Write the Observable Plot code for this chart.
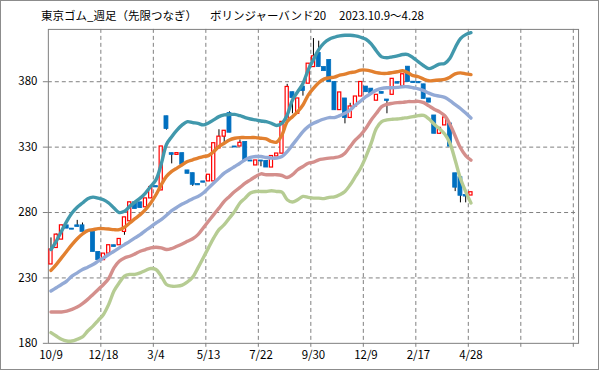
<!DOCTYPE html>
<html><head><meta charset="utf-8">
<script src="https://cdn.jsdelivr.net/npm/d3@7"></script>
<script src="https://cdn.jsdelivr.net/npm/@observablehq/plot@0.6"></script>
<style>
body{margin:0;background:#fff;}
#wrap{position:relative;width:599px;height:370px;box-sizing:border-box;border:1px solid #8c8c8c;overflow:hidden;font-family:"Noto Sans CJK JP","Noto Sans",sans-serif;background:#fff;}
#wrap svg{position:absolute;left:-1px;top:-1px;}
.t{position:absolute;top:6px;font-size:11.5px;line-height:16px;white-space:nowrap;color:#000;}
</style></head><body>
<div id="wrap">
<span class="t" style="left:40px">東京ゴム_週足（先限つなぎ）</span>
<span class="t" style="left:209px">ボリンジャーバンド20</span>
<span class="t" style="left:338px">2023.10.9〜4.28</span>
</div>
<script>
// Weekly candles (bar index 0 = 2023/10/9 ... 80 = 2025/4/28)
const open  = [240.3,252.9,259.3,270.2,267.7,270.2,270.2,266.2,265.2,249.9,243.6,248.6,255.0,255.0,265.2,273.3,287.8,287.8,284.0,290.8,300.2,296.9,353.6,325.4,324.1,325.4,312.2,310.1,301.8,303.8,303.8,303.8,329.0,338.0,356.0,330.5,330.5,334.0,319.8,316.0,319.8,319.5,314.4,322.9,325.0,350.4,372.0,355.5,376.3,378.5,391.2,402.0,391.2,396.6,379.8,358.3,367.2,352.3,361.1,368.7,376.3,374.7,365.5,372.1,366.4,370.0,379.7,376.7,391.5,380.0,379.8,378.0,367.2,354.2,340.2,346.6,348.1,310.0,307.0,293.4,293.0];
const high  = [260.6,263.6,270.2,270.2,267.7,274.0,272.0,266.2,265.2,249.9,248.6,255.0,255.0,259.8,276.3,287.8,287.8,287.8,290.8,299.5,300.2,330.5,353.6,325.4,325.4,325.4,312.2,310.1,301.8,303.8,308.9,333.0,343.3,342.5,357.0,330.5,335.5,334.0,319.8,319.8,319.8,319.5,323.2,325.1,349.3,378.0,372.0,367.2,376.3,393.8,413.0,411.0,391.2,396.6,379.8,371.8,367.2,363.5,368.7,379.8,376.3,374.7,370.0,372.1,366.4,382.2,379.7,385.7,391.5,380.0,379.8,378.0,367.2,354.2,344.7,354.0,348.1,310.0,307.0,293.4,295.5];
const low   = [240.3,252.9,259.3,267.7,266.9,269.0,265.2,265.2,249.9,242.5,243.6,248.6,253.7,255.0,262.6,273.3,282.7,283.4,284.0,290.8,299.2,296.9,343.0,317.2,324.1,316.5,309.6,300.0,300.8,302.8,303.8,303.8,329.0,333.0,341.0,329.7,330.5,320.0,319.0,316.0,315.0,314.4,314.4,322.9,325.0,350.4,355.5,355.5,369.0,378.5,391.2,391.2,388.1,379.7,358.2,358.3,347.8,352.3,361.1,368.7,372.0,371.2,365.5,370.8,355.5,370.0,378.5,376.7,379.8,379.0,378.8,366.9,364.0,340.2,340.2,346.6,330.4,296.0,287.4,287.4,293.0];
const close = [251.7,263.1,270.2,267.7,266.9,269.0,265.2,265.2,249.9,243.6,248.6,255.0,253.7,259.8,276.3,287.8,282.7,283.4,290.8,299.5,299.2,330.5,343.9,324.1,325.4,316.5,309.6,301.2,300.8,302.8,308.9,333.0,338.0,342.5,341.0,329.7,333.3,320.0,319.0,319.8,319.0,314.4,323.2,325.1,349.3,376.0,367.5,367.2,372.9,393.8,399.4,391.2,388.1,379.7,358.2,371.8,352.2,361.1,368.7,379.8,372.0,371.2,370.0,370.8,365.3,382.2,378.5,385.7,379.8,379.0,378.8,366.9,364.0,340.2,344.7,352.7,330.4,299.0,292.8,292.2,295.5];

// Bollinger bands
const bandUpper2 = [251.7,258,265.7,273.3,279.6,284,287.3,290.6,291.8,291,289.8,287.3,283.4,280,280.9,284.7,288,291,294.9,300,305,317,332,338,343,347,349.5,348.7,348.2,347,348.5,350.8,353.3,354.6,355,355,354,352.6,351.5,350.8,350,349.5,348.2,346.5,348.2,354.6,366,372.4,378.7,389,397,404.5,409.5,412.5,414,415,415.5,415.5,415,414,412.5,409,403.5,399,398.3,399,399.8,400.8,400.8,398.3,395.2,392.2,390,391.5,393.5,394,398,406,413,416,417.5];
const bandUpper1 = [235.7,240.2,245.3,250.4,255.5,260,263.6,266.2,266.9,267.7,267.7,267.4,266.9,266.9,268.7,272,275.3,278.4,282.2,287.3,293.6,301.2,307.6,311.4,314,316.5,319,320.3,321.6,322.8,323.5,326.6,330.5,333,335.5,336.8,337.3,337.3,337.3,337.3,336.8,336.3,334.3,333.8,339.3,349.5,353.3,357.1,362.2,369.8,374.9,379.2,382,383,383.5,385,385.8,386.9,387.6,388.9,388.9,388.1,386.9,386.4,386.4,386.9,387.6,388.4,386.9,384.6,383.8,382,380.7,381,381.3,381.8,383.5,386,386.8,386,385.4];
const movingAvg  = [220,222.5,225,227.6,231.4,233.9,236.4,238.2,240.2,242.8,245.3,247.9,250.4,253,255.5,258,260.6,263.1,266.2,269,272,274.6,277.9,281.4,284,286.5,288.5,290.6,292.3,294.9,298.7,302.5,306.3,310.1,312.7,315.2,317.7,320.3,322.1,322.8,322.8,322.1,321.6,321.6,322.8,326.6,331.7,336.8,341.9,345.7,348.2,350,351.5,352.6,352.6,354.1,355.9,358.4,362.2,365.3,368.6,371.1,373.6,374.9,375.4,375.4,375.7,376.2,376.2,375.4,374.6,373.2,371.3,369.8,369,368,365.5,362.5,359.5,356,352.2];
const bandLower1 = [204,204,204,204.7,206,207.7,210.3,213.6,217.4,221.2,225,229.6,237.7,242.8,245.3,246.6,248.4,250.4,251.7,253,253.5,253,251.7,252.5,254.2,256,258,260,263.1,268.2,273.3,278.4,283.4,288.5,292.3,296.1,299.2,302.5,305,307.6,309.6,308.9,308.9,308.9,308.3,306.8,308.9,312.7,315.2,317.7,318.5,320.3,321,321.6,322,322.8,325.4,330.5,335.5,339.3,344.4,350.8,355.9,360.9,362.7,363.5,364,364.2,364.8,364.8,365,364,361.5,359,357,354,347.5,338.5,329.5,323.5,320];
const bandLower2 = [188.2,185.6,183.1,181.8,181.8,183.1,184.9,189.4,193.2,197.6,202.1,209.8,220,226.3,231.4,232.7,232.7,233.9,235.7,237.2,236.4,231.4,225,223.7,223.7,224.5,227,230.6,237.7,245.3,253,260.6,266.9,270.7,275.8,280.9,287.3,291,294.9,296.1,296.1,296.1,296.7,296.1,295.6,289.8,288,289.8,292.3,291.6,291,291,290.6,291.6,292,293.6,296.1,301.2,307.6,314,322.8,333,344.4,349.5,350.8,351.3,351.5,352.1,352.6,353.3,354.1,354.2,351.5,347.5,344,340,333,320,306,296,287.3];

// Axis
const xTickLabels = ["10/9","12/18","3/4","5/13","7/22","9/30","12/9","2/17","4/28"];
const labelEvery = 10;
const slotCount = 101;
const yTicks = [180,230,280,330,380];
const yGridValues = [230,280,330,380];
const yDomain = [180,420];

const rows = open.map((o,i)=>({i, open:o, high:high[i], low:low[i], close:close[i],
  up2:bandUpper2[i], up1:bandUpper1[i], ma:movingAvg[i], lo1:bandLower1[i], lo2:bandLower2[i]}));
const upRows = rows.filter(d=>d.close>=d.open);
const downRows = rows.filter(d=>d.close<d.open);
const labelPos = xTickLabels.map((_,k)=>k*labelEvery);
const xBounds = d3.range(1, Math.ceil(slotCount/labelEvery)+0).map(k=>k*labelEvery-0.5).filter(v=>v<slotCount-0.5);

const grid = {stroke:"#7f7f7f", strokeDasharray:"4,3", strokeWidth:1};
const font = '"Noto Sans CJK JP","Noto Sans",sans-serif';
const lineOpt = {x:"i", strokeWidth:3.4, curve:"catmull-rom", strokeLinejoin:"round", strokeLinecap:"round"};

const chart = Plot.plot({
  width:599, height:370,
  marginLeft:48, marginRight:19, marginTop:29, marginBottom:26,
  x:{domain:[-0.5, slotCount-0.5], axis:null},
  y:{domain:yDomain, axis:null},
  style:{fontFamily:font, fontSize:"11.5px", background:"transparent", color:"#000"},
  marks:[
    Plot.ruleY(yGridValues, grid),
    Plot.ruleX(xBounds, grid),
    Plot.frame({stroke:"#7f7f7f"}),
    Plot.axisY({ticks:yTicks, tickSize:5, tickPadding:6, stroke:"#7f7f7f", fill:"#000", fontSize:"11.5px", label:null}),
    Plot.axisX({ticks:xBounds, tickSize:4, tickFormat:()=>"", stroke:"#7f7f7f", label:null}),
    Plot.axisX({ticks:labelPos, tickSize:0, tickPadding:8, tickFormat:(d)=>xTickLabels[Math.round(d/labelEvery)], fill:"#000", fontSize:"11.5px", label:null}),
    Plot.ruleX(rows, {x:"i", y1:"low", y2:"high", stroke:"#000", strokeWidth:1}),
    Plot.rect(downRows, {x1:d=>d.i-0.38, x2:d=>d.i+0.38, y1:"open", y2:"close", fill:"#0070C0", stroke:"#0070C0", strokeWidth:0.8}),
    Plot.rect(upRows, {x1:d=>d.i-0.3, x2:d=>d.i+0.3, y1:"open", y2:"close", fill:"#fff", stroke:"#FF0000", strokeWidth:1.2}),
    Plot.line(rows, {...lineOpt, y:"lo2", stroke:"#B6CC93"}),
    Plot.line(rows, {...lineOpt, y:"lo1", stroke:"#D48F8C"}),
    Plot.line(rows, {...lineOpt, y:"ma", stroke:"#93AAD6"}),
    Plot.line(rows, {...lineOpt, y:"up1", stroke:"#E2802F"}),
    Plot.line(rows, {...lineOpt, y:"up2", stroke:"#4198AC"})
  ]
});
document.getElementById("wrap").appendChild(chart);
</script>
</body></html>
